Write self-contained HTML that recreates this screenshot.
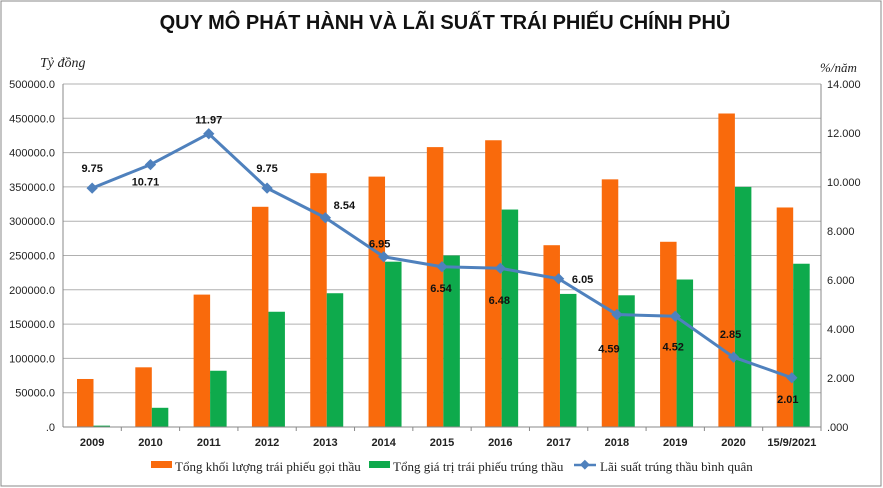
<!DOCTYPE html>
<html><head><meta charset="utf-8"><style>
body{margin:0;background:#fff}
svg{display:block;font-family:"Liberation Sans",sans-serif}
</style></head><body>
<svg id="c" width="883" height="488">
<rect x="1" y="1" width="880" height="485" fill="#fff" stroke="#888"/>
<text x="445" y="29" text-anchor="middle" font-size="20" font-weight="bold" fill="#111">QUY MÔ PHÁT HÀNH VÀ LÃI SUẤT TRÁI PHIẾU CHÍNH PHỦ</text>
<text x="40" y="67" font-family="Liberation Serif,serif" font-style="italic" font-size="14" fill="#222">Tỷ đồng</text>
<text x="820" y="72" font-family="Liberation Serif,serif" font-style="italic" font-size="13" fill="#222">%/năm</text>
<g id="grid"></g><g id="bars"></g><g id="line"></g><g id="axes"></g>
<g font-family="Liberation Serif,serif" font-size="13" fill="#222">
<rect x="151" y="461" width="21" height="7" fill="#f96a0c"/>
<text x="175" y="471">Tổng khối lượng trái phiếu gọi thầu</text>
<rect x="369" y="461" width="21" height="7" fill="#0eaa4c"/>
<text x="393" y="471">Tổng giá trị trái phiếu trúng thầu</text>
<line x1="574" y1="465" x2="596" y2="465" stroke="#4f81bd" stroke-width="2.5"/>
<rect x="581" y="461" width="7" height="7" fill="#4f81bd" transform="rotate(45 584.5 465)"/>
<text x="600" y="471">Lãi suất trúng thầu bình quân</text>
</g>
</svg>
<script>
const categories=["2009","2010","2011","2012","2013","2014","2015","2016","2017","2018","2019","2020","15/9/2021"];
const volume=[70000,87000,193000,321000,370000,365000,408000,418000,265000,361000,270000,457000,320000];
const valueWon=[2000,28000,82000,168000,195000,241000,250000,317000,194000,192000,215000,350000,238000];
const rate=[9.75,10.71,11.97,9.75,8.54,6.95,6.54,6.48,6.05,4.59,4.52,2.85,2.01];
const leftTicks=[0,50000,100000,150000,200000,250000,300000,350000,400000,450000,500000];
const rightTicks=[0,2,4,6,8,10,12,14];
const rateLabelOffsets=[[0,-20],[-5,17],[0,-14],[0,-20],[19,-13],[-4,-13],[-1,21],[-1,32],[24,0],[-8,34],[-2,30],[-3,-23],[-4,21]];

const NS="http://www.w3.org/2000/svg";
const X0=63,X1=821,Y0=427,Y1=84;
const band=(X1-X0)/categories.length;
const yL=v=>Y0-(v/500000)*(Y0-Y1);
const yR=v=>Y0-(v/14)*(Y0-Y1);
const xC=i=>X0+band*(i+0.5);
function mk(tag,attrs,parent,text){const e=document.createElementNS(NS,tag);for(const k in attrs)e.setAttribute(k,attrs[k]);if(text!=null)e.textContent=text;document.getElementById(parent).appendChild(e);return e;}
const fmtL=v=>v===0?".0":v+".0";
const fmtR=v=>v===0?".000":v+".000";

leftTicks.forEach(t=>{
  const l=mk('line',{x1:X0,x2:X1,y1:yL(t),y2:yL(t),stroke:'#b0b0b0','stroke-width':1},'grid');
  
  
  const tx=mk('text',{x:X0-8,y:yL(t)+4,'text-anchor':'end','font-size':11,fill:'#222'},'axes',fmtL(t));
  
  
});
rightTicks.forEach(t=>{
  const tx=mk('text',{x:X1+6,y:yR(t)+4,'font-size':11,fill:'#222'},'axes',fmtR(t));
  
  
});
let a=mk('line',{x1:X0,x2:X0,y1:Y1,y2:Y0,stroke:'#888'},'axes');


a=mk('line',{x1:X1,x2:X1,y1:Y1,y2:Y0,stroke:'#888'},'axes');


a=mk('line',{x1:X0,x2:X1,y1:Y0,y2:Y0,stroke:'#888'},'axes');



const bw=16.5;
categories.forEach((c,i)=>{
  const x=X0+band*i+14;
  const b1=mk('rect',{x:x,y:yL(volume[i]),width:bw,height:Y0-yL(volume[i]),fill:'#f96a0c'},'bars');
  
  
  const b2=mk('rect',{x:x+bw,y:yL(valueWon[i]),width:bw,height:Y0-yL(valueWon[i]),fill:'#0eaa4c'},'bars');
  
  
  const tk=mk('line',{x1:X0+band*(i+1),x2:X0+band*(i+1),y1:Y0,y2:Y0+4,stroke:'#888'},'axes');
  
  
  const lb=mk('text',{x:xC(i),y:446,'text-anchor':'middle','font-size':11,'font-weight':'bold',fill:'#222'},'axes',c);
  
  
});

const pts=rate.map((v,i)=>xC(i)+','+yR(v)).join(' ');
const pl=mk('polyline',{points:pts,fill:'none',stroke:'#4f81bd','stroke-width':3,'stroke-linejoin':'round'},'line');


rate.forEach((v,i)=>{
  const x=xC(i),y=yR(v);
  const m=mk('rect',{x:x-4,y:y-4,width:8,height:8,fill:'#4f81bd',transform:`rotate(45 ${x} ${y})`},'line');
  
  
  const o=rateLabelOffsets[i];
  const t=mk('text',{x:x+o[0],y:y+o[1]+4,'text-anchor':'middle','font-size':11,'font-weight':'bold',fill:'#111'},'line',v.toFixed(2));
  
  
});
</script>
</body></html>
